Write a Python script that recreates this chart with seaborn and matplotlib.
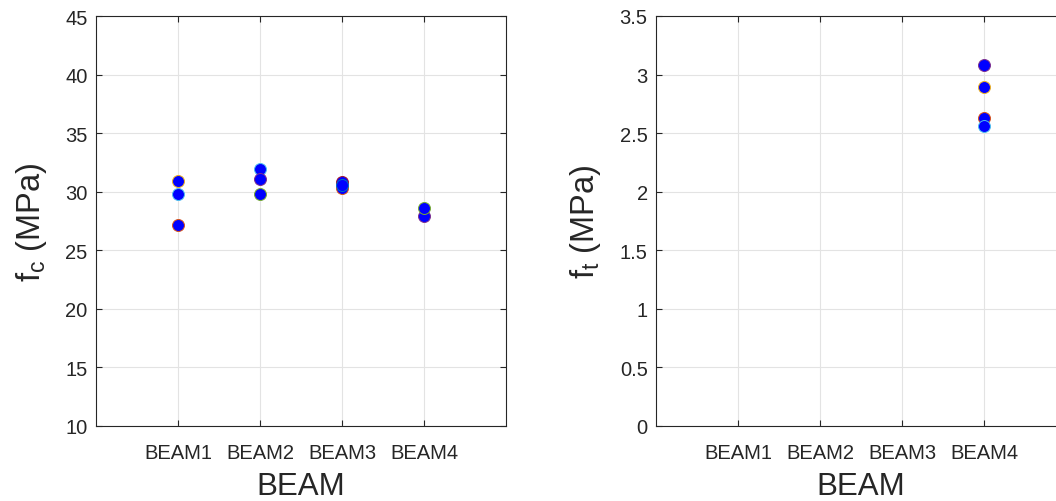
import pandas as pd
import matplotlib
matplotlib.use("Agg")
import matplotlib.pyplot as plt
import seaborn as sns

# Data
beams = ["BEAM1", "BEAM2", "BEAM3", "BEAM4"]

fc_beam = ["BEAM1", "BEAM1", "BEAM1", "BEAM2", "BEAM2", "BEAM2",
           "BEAM3", "BEAM3", "BEAM3", "BEAM4", "BEAM4"]
fc_vals = [30.94, 29.83, 27.16, 31.94, 31.09, 29.83,
           30.80, 30.55, 30.29, 28.58, 27.95]
fc_edge = ["yellow", "lightblue", "orange", "lightblue", "purple", "green",
           "darkred", "blue", "orange", "green", "purple"]

ft_beam = ["BEAM4", "BEAM4", "BEAM4", "BEAM4"]
ft_vals = [3.08, 2.89, 2.63, 2.56]
ft_edge = ["purple", "yellow", "orange", "lightblue"]

# MATLAB default line colours, used as marker edges
matlab_colors = {
    "blue": (0.0, 0.447, 0.741),
    "orange": (0.85, 0.325, 0.098),
    "yellow": (0.929, 0.694, 0.125),
    "purple": (0.494, 0.184, 0.556),
    "green": (0.466, 0.674, 0.188),
    "lightblue": (0.301, 0.745, 0.933),
    "darkred": (0.635, 0.078, 0.184),
}

sns.set_theme(style="white")
plt.rcParams["font.family"] = ["Liberation Sans", "DejaVu Sans"]
plt.rcParams["mathtext.fontset"] = "custom"
plt.rcParams["mathtext.rm"] = "Liberation Sans"
plt.rcParams["mathtext.it"] = "Liberation Sans"
plt.rcParams["text.color"] = "#262626"
plt.rcParams["axes.labelcolor"] = "#262626"
plt.rcParams["xtick.color"] = "#262626"
plt.rcParams["ytick.color"] = "#262626"

fig = plt.figure(figsize=(10.56, 5.02), dpi=100)
ax1 = fig.add_axes([96 / 1056, 75 / 502, 410 / 1056, 410 / 502])
ax2 = fig.add_axes([656 / 1056, 75 / 502, 410 / 1056, 410 / 502])

df_fc = pd.DataFrame({"beam": fc_beam, "val": fc_vals, "edge": fc_edge})
df_ft = pd.DataFrame({"beam": ft_beam, "val": ft_vals, "edge": ft_edge})


def draw(ax, df, ylim, yticks, ylabel):
    for edge in df["edge"].unique():
        sub = df[df["edge"] == edge]
        sns.stripplot(data=sub, x="beam", y="val", order=beams, jitter=False,
                      color="#0000ff", edgecolor=matlab_colors[edge],
                      linewidth=0.7, size=8.6, ax=ax, zorder=3)
    ax.set_xlim(-1, 4)
    ax.set_ylim(*ylim)
    ax.set_yticks(yticks)
    ax.set_yticklabels([f"{t:g}" for t in yticks])
    ax.grid(True, color="#e3e3e3", linewidth=0.8)
    ax.set_axisbelow(True)
    ax.tick_params(direction="in", length=4, width=0.8, labelsize=14.5,
                   top=True, right=True, bottom=True, left=True, pad=6)
    ax.tick_params(axis="x", pad=12)
    for s in ax.spines.values():
        s.set_color("#262626")
        s.set_linewidth(0.8)
    ax.set_xlabel("BEAM", fontsize=22.5, labelpad=7)
    ax.set_ylabel(ylabel, fontsize=23.5, labelpad=12)


draw(ax1, df_fc, (10, 45), list(range(10, 46, 5)), r"$\mathregular{f_c}$ (MPa)")
draw(ax2, df_ft, (0, 3.5), [0, 0.5, 1, 1.5, 2, 2.5, 3, 3.5], r"$\mathregular{f_t}$ (MPa)")

fig.savefig("out.png", dpi=100)
